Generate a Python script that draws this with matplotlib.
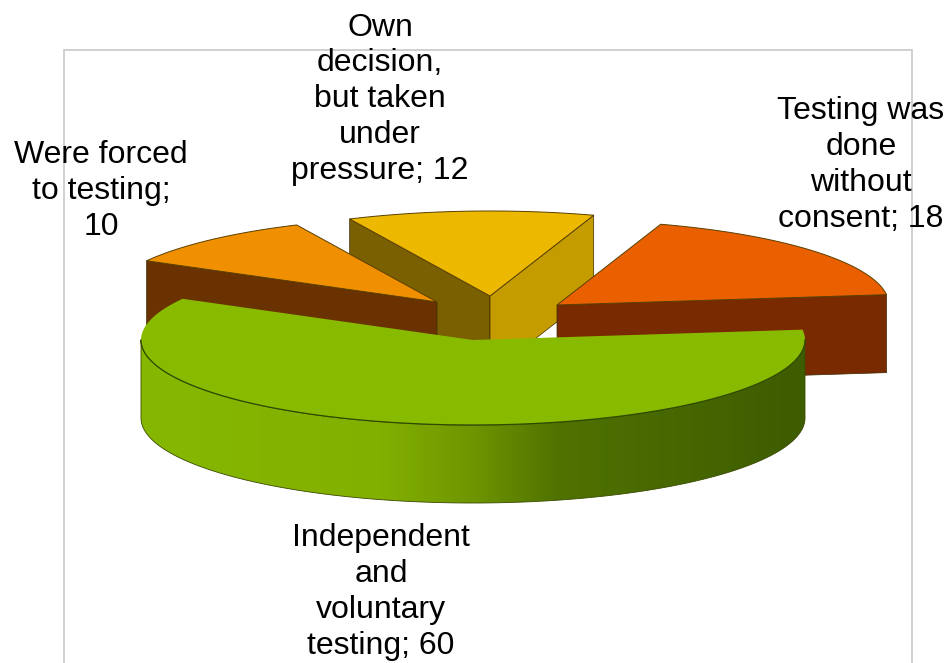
import numpy as np
import matplotlib
matplotlib.use('Agg')
import matplotlib.pyplot as plt
from matplotlib.patches import Polygon, Rectangle
from matplotlib.colors import LinearSegmentedColormap

plt.rcParams['font.family'] = ['Liberation Sans', 'DejaVu Sans']

# values in pie order, clockwise from the right hand side
labels = ['Independent\nand\nvoluntary\ntesting', 'Were forced\nto testing;', 'Own\ndecision,\nbut taken\nunder\npressure', 'Testing was\ndone\nwithout\nconsent']
values = [60, 10, 12, 18]

# layout, in image pixels
apex_x = [473, 437, 490, 557]
apex_y = [340, 302, 296, 305]
label_x = [381, 101, 380, 861]
label_y = [592, 191, 99, 165]
top_colors = ['#88bb00', '#f09000', '#ecb800', '#ea6000']
start_wall_colors = ['#5a7a00', '#6a3200', '#7a6000', '#7a2a00']
end_wall_colors = ['#5a7a00', '#6a3200', '#c49c00', '#7a2a00']
rx = 332
ry = 85
depth = 78
start_angle = 7


def rim(i, a):
    a = np.radians(a)
    return apex_x[i] + rx*np.cos(a), apex_y[i] - ry*np.sin(a)


def flat(xs, ys, dy=0):
    return np.column_stack([xs, np.asarray(ys) + dy])


def wallVisible(i, a, mid):
    # the wall shows when the slice itself lies above the wall's line on screen
    xr, yr = rim(i, a)
    xm, ym = rim(i, mid)
    slope = (yr - apex_y[i]) / (xr - apex_x[i])
    return ym < apex_y[i] + slope*(xm - apex_x[i])


def drawSlice(ax, i, a1, a2, zorder):
    x0, y0 = apex_x[i], apex_y[i]
    mid = (a1 + a2) / 2
    for a, col in ((a1, start_wall_colors[i]), (a2, end_wall_colors[i])):
        if not wallVisible(i, a, mid):
            continue
        xr, yr = rim(i, a)
        pts = [(x0, y0), (xr, yr), (xr, yr+depth), (x0, y0+depth)]
        ax.add_patch(Polygon(pts, closed=True, facecolor=col, edgecolor='#3a2a00', linewidth=0.5, zorder=zorder))
    ang = np.linspace(a1, a2, 200)
    xs, ys = rim(i, ang)
    top = np.vstack([[x0, y0], flat(xs, ys)])
    ax.add_patch(Polygon(top, closed=True, facecolor=top_colors[i], zorder=zorder+0.2, edgecolor='#5a4000', linewidth=0.7))


fig = plt.figure(figsize=(9.47, 6.63), dpi=100)
ax = fig.add_axes([0, 0, 1, 1])
ax.set_xlim(0, 947)
ax.set_ylim(663, 0)
ax.axis('off')

# plot area frame
ax.add_patch(Rectangle((63.5, 49.5), 848.5, 1000, facecolor='white', edgecolor='#c8c8c8', linewidth=1.2, zorder=0))

fractions = np.array(values) / sum(values) * 360
ends = start_angle - np.cumsum(fractions)
starts = ends + fractions
# back slices first, the big green one last
for z, i in enumerate([2, 1, 3]):
    drawSlice(ax, i, starts[i], ends[i], 2 + z)

# green slice: outer wall with gradient, then top
i = 0
ang = np.linspace(0, -180, 300)
xs, ys = rim(i, ang)
wall = np.vstack([flat(xs, ys), flat(xs[::-1], ys[::-1], depth)])
wall_patch = Polygon(wall, closed=True, facecolor='none', edgecolor='#3a4a00', linewidth=0.6, zorder=6)
ax.add_patch(wall_patch)
grad_cmap = LinearSegmentedColormap.from_list('wall', [(0, '#86b800'), (0.36, '#82b000'), (0.5, '#6f9500'), (0.63, '#4f7200'), (1, '#3e5c00')])
im = ax.imshow(np.linspace(0, 1, 400).reshape(1, -1), extent=(141, 805, 503, 340), cmap=grad_cmap, aspect='auto', zorder=5.9)
im.set_clip_path(wall_patch)
ax.set_xlim(0, 947)
ax.set_ylim(663, 0)

ang = np.linspace(starts[i], ends[i], 300)
xs, ys = rim(i, ang)
ax.add_patch(Polygon(np.vstack([[apex_x[i], apex_y[i]], flat(xs, ys)]), closed=True, facecolor=top_colors[i], edgecolor='none', zorder=6.2))
ang = np.linspace(0, -180, 300)
xs, ys = rim(i, ang)
ax.plot(xs, ys, color='#2f4a00', lw=0.9, zorder=6.3)

for i in range(len(values)):
    sep = '; ' if not labels[i].endswith(';') else '\n'
    ax.text(label_x[i], label_y[i], labels[i] + sep + str(values[i]), ha='center', va='center', fontsize=23, linespacing=1.25, color='black', zorder=10)

fig.savefig('out.png', dpi=100)
